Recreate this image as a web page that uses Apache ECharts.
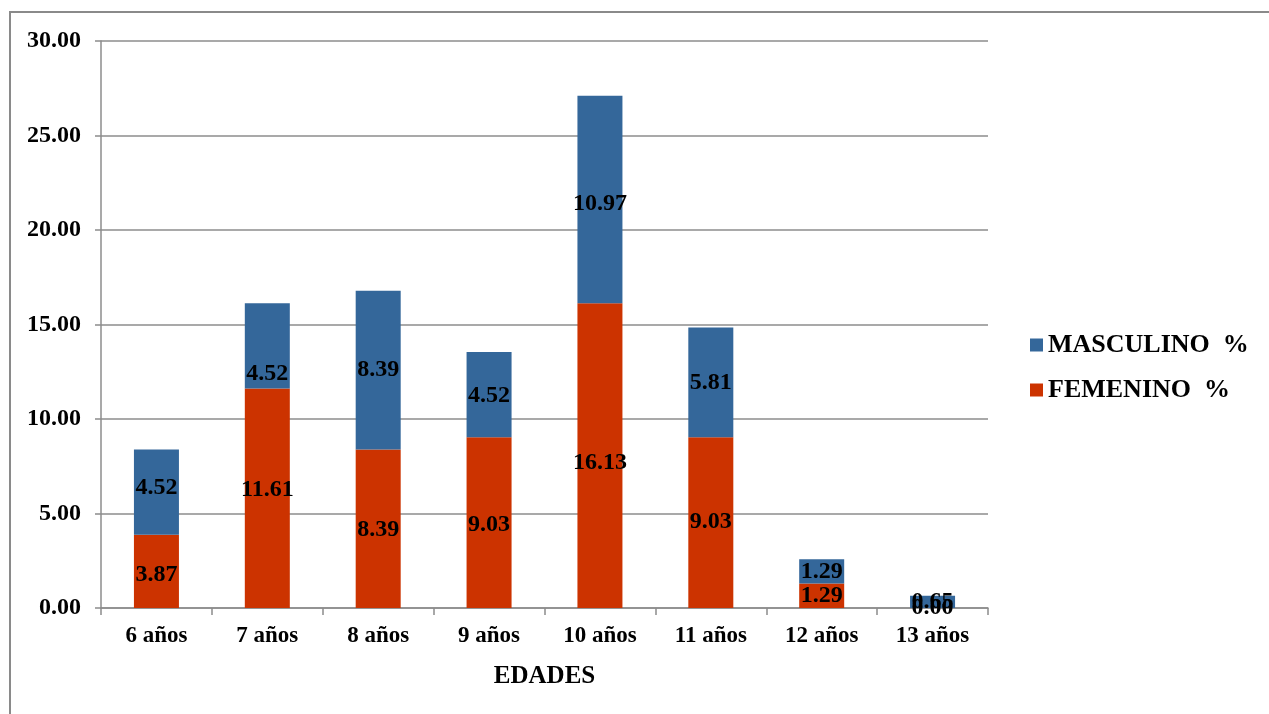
<!DOCTYPE html>
<html>
<head>
<meta charset="utf-8">
<script src="https://cdn.jsdelivr.net/npm/echarts@6/dist/echarts.min.js"></script>
<style>
html,body{margin:0;padding:0;background:#fff;}
#chart{width:1269px;height:714px;}
</style>
</head>
<body>
<div id="chart"></div>
<script>
var categories = ['6 años','7 años','8 años','9 años','10 años','11 años','12 años','13 años'];
var femenino = [3.87, 11.61, 8.39, 9.03, 16.13, 9.03, 1.29, 0.00];
var masculino = [4.52, 4.52, 8.39, 4.52, 10.97, 5.81, 1.29, 0.65];
var seriesNames = ['MASCULINO  %', 'FEMENINO  %'];

// small manual label nudges seen in the original (pixels, vertical)
var femLabelNudge = [3, -8, 1, 2, 7, -1, 0, 0];
var mascLabelNudge = [-4, 28, 0, 1, 4, 0, 0, 0];

var font = 'Liberation Serif';
var chart = echarts.init(document.getElementById('chart'));
function labelStyle() {
  return {
    show: true,
    position: 'inside',
    color: '#000',
    fontFamily: font,
    fontWeight: 'bold',
    fontSize: 24,
    formatter: function (p) { return Number(p.value).toFixed(2); }
  };
}
function buildData(values, nudges) {
  return values.map(function (v, i) {
    return {value: v, label: {offset: [0, nudges[i]]}};
  });
}
chart.setOption({
  animation: false,
  backgroundColor: '#fff',
  graphic: [{
    type: 'rect',
    shape: {x: 10, y: 12, width: 1400, height: 900},
    style: {fill: 'none', stroke: '#8a8a8a', lineWidth: 2},
    z: -10
  }],
  grid: {left: 101, right: 281, top: 41, bottom: 106},
  legend: {
    orient: 'vertical',
    left: 1030,
    top: 332,
    padding: 0,
    itemWidth: 13,
    itemHeight: 13,
    itemGap: 19,
    icon: 'rect',
    data: seriesNames,
    textStyle: {fontFamily: font, fontWeight: 'bold', fontSize: 26, color: '#000', padding: [0,0,0,0]}
  },
  xAxis: {
    type: 'category',
    data: categories,
    name: 'EDADES',
    nameLocation: 'middle',
    nameGap: 56,
    nameTextStyle: {fontFamily: font, fontWeight: 'bold', fontSize: 25, color: '#000'},
    axisLine: {lineStyle: {color: '#8c8c8c', width: 1.5}},
    axisTick: {show: true, length: 7, lineStyle: {color: '#8c8c8c', width: 1.5}},
    axisLabel: {margin: 17, fontFamily: font, fontWeight: 'bold', fontSize: 23, color: '#000'}
  },
  yAxis: {
    type: 'value',
    min: 0, max: 30, interval: 5,
    axisLine: {show: true, lineStyle: {color: '#8c8c8c', width: 1.5}},
    axisTick: {show: true, length: 6, lineStyle: {color: '#8c8c8c', width: 1.5}},
    splitLine: {lineStyle: {color: '#8c8c8c', width: 1.5}},
    axisLabel: {margin: 20, fontFamily: font, fontWeight: 'bold', fontSize: 24, color: '#000',
      formatter: function (v) { return v.toFixed(2); }}
  },
  series: [
    {
      name: seriesNames[1], type: 'bar', stack: 'total', data: buildData(femenino, femLabelNudge),
      barWidth: 45,
      itemStyle: {color: '#CC3300'},
      label: labelStyle()
    },
    {
      name: seriesNames[0], type: 'bar', stack: 'total', data: buildData(masculino, mascLabelNudge),
      barWidth: 45,
      itemStyle: {color: '#34679A'},
      label: labelStyle()
    }
  ]
});
</script>
</body>
</html>
